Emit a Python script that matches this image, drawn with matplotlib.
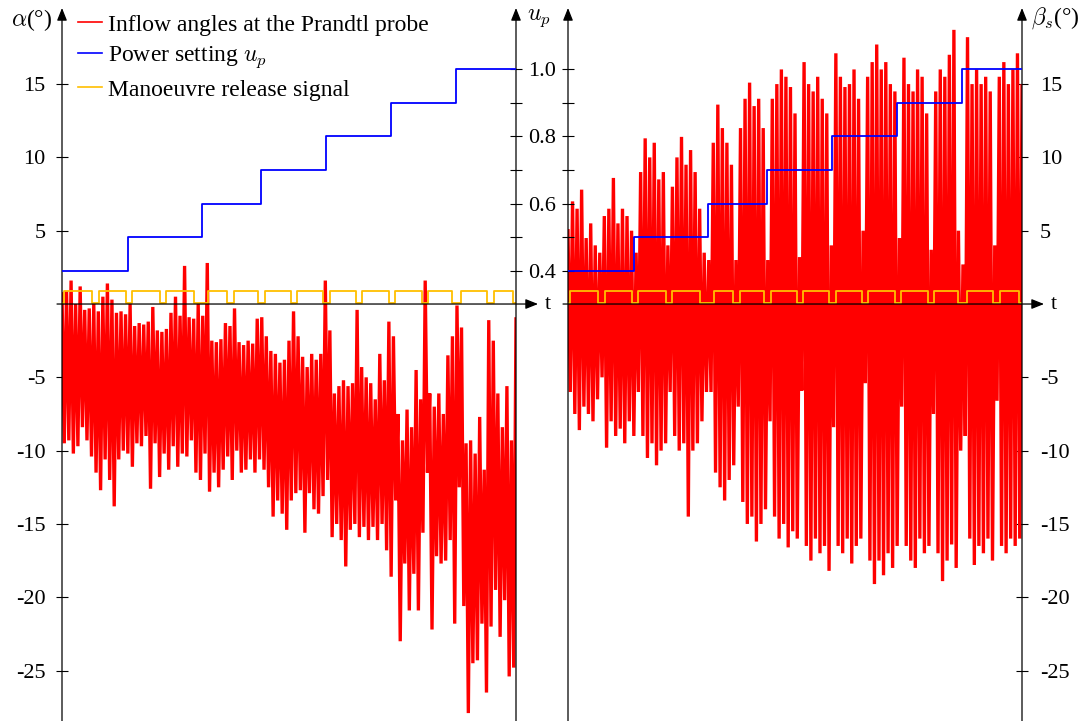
import numpy as np
import matplotlib.pyplot as plt

plt.rcParams['font.family'] = ['Liberation Serif', 'DejaVu Serif']
plt.rcParams['mathtext.fontset'] = 'cm'
plt.rcParams['font.size'] = 16

# time in % of the record, one sample per unit (envelope)
t = np.arange(0, 101)

# inflow angle alpha: upper / lower extremes of the noisy signal
alpha_hi = [0.7, 0.9, 1.6, 0.0, 1.2, -0.4, -0.3, 0.0, -0.5, 0.5,
            1.4, 0.3, -0.6, -0.5, -0.7, 0.0, -1.5, -1.3, -1.4, -1.2,
            -0.2, -1.8, -1.9, -1.7, -0.6, 0.5, -0.8, 2.6, -0.9, -1.0,
            0.0, -0.8, 2.8, -2.5, -2.6, -2.4, -1.3, -1.5, -0.3, -2.6,
            -2.8, -2.5, -2.7, -1.0, -0.9, -2.2, -3.2, -3.4, -4.0, -3.8,
            -2.5, -0.5, -2.2, -3.6, -4.3, -3.4, -3.8, -3.4, 1.6, -1.8,
            -6.1, -5.6, -5.2, -5.6, -5.4, -0.4, -4.3, -5.0, -5.4, -6.5,
            -3.4, -5.2, -1.2, -2.2, -7.5, -9.3, -7.2, -8.4, -4.5, -6.5,
            1.6, -6.1, -7.0, -6.1, -7.5, -3.5, -2.2, -0.1, -1.6, -9.5,
            -9.3, -10.2, -7.7, -11.3, -1.1, -2.5, -6.1, -8.4, -5.6, -9.3,
            -0.9]
alpha_lo = [-9.5, -9.3, -10.2, -9.7, -8.4, -9.3, -10.4, -11.5, -12.7, -10.6,
            -12.0, -13.8, -10.6, -10.0, -10.2, -11.1, -9.5, -9.7, -9.0, -12.6,
            -9.5, -11.8, -10.2, -11.3, -9.7, -11.1, -10.2, -10.4, -9.3, -11.5,
            -12.0, -10.2, -12.8, -11.5, -12.5, -11.3, -10.4, -12.0, -10.0, -11.5,
            -11.3, -10.6, -11.5, -10.6, -11.3, -12.5, -14.5, -13.4, -14.3, -15.4,
            -13.4, -12.9, -12.7, -15.6, -12.9, -14.0, -14.3, -13.1, -12.0, -15.9,
            -15.0, -16.1, -17.9, -15.4, -15.0, -15.9, -15.2, -16.1, -15.2, -16.1,
            -15.0, -16.8, -18.6, -13.4, -23.0, -17.7, -20.9, -18.4, -20.9, -15.6,
            -11.5, -22.2, -17.2, -17.7, -17.5, -16.1, -21.8, -12.5, -20.6, -27.9,
            -24.5, -24.3, -21.8, -26.5, -22.0, -19.5, -22.7, -20.2, -25.4, -24.8,
            -18.4]

# sideslip angle beta_s: upper / lower extremes
beta_hi = [5.0, 7.0, 6.5, 7.8, 4.5, 5.5, 4.0, 3.5, 6.0, 6.5,
           8.6, 5.5, 6.5, 6.0, 5.0, 3.5, 9.0, 11.3, 10.0, 11.0,
           8.5, 9.0, 4.0, 8.0, 10.0, 11.4, 9.5, 10.5, 9.0, 6.5,
           3.5, 3.0, 11.0, 13.6, 12.0, 11.0, 9.5, 3.0, 12.0, 14.0,
           15.1, 13.5, 14.0, 12.0, 3.0, 14.0, 15.0, 16.0, 15.5, 14.8,
           13.0, 3.2, 16.5, 15.0, 14.5, 15.5, 14.0, 13.0, 4.0, 17.1,
           15.5, 14.8, 15.0, 16.0, 14.0, 5.0, 15.5, 16.5, 17.7, 16.0,
           16.5, 15.0, 14.5, 4.5, 16.8, 15.0, 14.5, 16.0, 15.5, 13.0,
           3.7, 14.5, 16.0, 15.5, 17.0, 18.7, 5.0, 2.7, 18.2, 15.0,
           16.0, 15.0, 15.5, 14.5, 4.0, 15.5, 16.5, 15.0, 16.0, 17.1,
           15.0]
beta_lo = [-6.0, -7.5, -8.6, -7.0, -7.5, -8.0, -6.5, -5.0, -9.8, -8.0,
           -9.0, -8.5, -9.5, -8.0, -9.0, -6.0, -9.0, -10.5, -9.5, -11.0,
           -10.0, -9.5, -6.0, -9.0, -10.0, -9.5, -14.5, -10.0, -9.5, -8.0,
           -6.0, -6.0, -11.5, -12.5, -13.4, -12.0, -11.0, -7.0, -13.5, -15.0,
           -14.5, -16.2, -15.0, -14.0, -8.0, -14.5, -16.0, -15.0, -16.6, -15.5,
           -16.0, -5.9, -16.5, -17.5, -16.0, -17.0, -16.5, -18.2, -8.4, -16.5,
           -17.0, -16.0, -17.7, -16.5, -16.0, -5.4, -17.5, -19.1, -17.5, -18.5,
           -17.0, -18.0, -16.5, -7.0, -16.5, -17.5, -18.0, -16.0, -17.0, -16.5,
           -7.5, -17.0, -18.9, -17.5, -16.4, -18.0, -10.0, -9.0, -16.0, -17.8,
           -16.5, -17.0, -16.0, -17.5, -6.6, -16.5, -17.0, -16.0, -16.5, -16.0,
           -14.0]

# power setting steps
up_times = [0, 14.5, 30.8, 43.8, 58.1, 72.5, 86.8, 100]
up_values = [0.4, 0.5, 0.6, 0.7, 0.8, 0.9, 1.0]

# manoeuvre release pulses (start / end)
release_on = [0.4, 8.1, 15.4, 22.9, 32.2, 37.9, 44.7, 51.8, 59.0, 66.1, 73.3, 80.6, 87.9, 95.2]
release_off = [6.6, 14.1, 21.6, 29.1, 36.3, 43.2, 50.4, 57.5, 64.8, 72.0, 79.3, 85.9, 93.6, 99.3]
release_high = 0.9
release_low = 0.05

angle_ticks = [15, 10, 5, -5, -10, -15, -20, -25]
angle_labels = ['15', '10', '5', '-5', '-10', '-15', '-20', '-25']
up_ticks = [0.4, 0.5, 0.6, 0.7, 0.8, 0.9, 1.0]
up_labels = ['0.4', '', '0.6', '', '0.8', '', '1.0']

RED = '#ff0000'
BLUE = '#0000ff'
ORANGE = '#ffbf00'

W, H = 1087, 721
fig = plt.figure(figsize=(W / 100, H / 100), dpi=100)


def zigzag(hi, lo):
    tt = np.empty(2 * len(t))
    yy = np.empty(2 * len(t))
    tt[0::2] = t
    tt[1::2] = t + 0.5
    yy[0::2] = hi
    yy[1::2] = lo
    return tt, yy


def release_signal():
    rt, ry = [0], [release_low]
    for on, off in zip(release_on, release_off):
        rt += [on, on, off, off]
        ry += [release_low, release_high, release_high, release_low]
    rt.append(100)
    ry.append(release_low)
    return rt, ry


def arrow(ax, start, end, coords):
    ax.annotate('', xy=end, xytext=start, xycoords=coords, textcoords=coords,
                arrowprops=dict(arrowstyle='-|>,head_length=0.75,head_width=0.3',
                                mutation_scale=10, color='k', lw=0.9,
                                shrinkA=0, shrinkB=0),
                annotation_clip=False, zorder=10)


def panel(x0, hi, lo):
    ax = fig.add_axes([x0 / W, 0, 454 / W, 713 / H])
    axu = ax.twinx()
    ax.set_xlim(0, 100)
    ax.set_ylim(-28.44, 20.19)
    axu.set_ylim(-0.9366, 1.1812)
    for a in (ax, axu):
        for s in a.spines.values():
            s.set_visible(False)
        a.set_xticks([])
        a.patch.set_visible(False)
        a.tick_params(axis='y', direction='inout', length=8, width=0.8,
                      pad=5, labelsize=16, colors='k')

    tt, yy = zigzag(hi, lo)
    red, = ax.plot(tt, yy, color=RED, lw=2.4, zorder=2, solid_joinstyle='miter')
    rt, ry = release_signal()
    orange, = ax.plot(rt, ry, color=ORANGE, lw=1.3, zorder=4)
    blue, = axu.step(up_times, up_values + [up_values[-1]], where='post',
                     color=BLUE, lw=1.3, zorder=4)

    # axes lines with arrow tips
    arrow(ax, (0, 0), (0, 1), 'axes fraction')
    arrow(ax, (1, 0), (1, 1), 'axes fraction')
    arrow(ax, (-0.011, 0), (1.0485, 0), ax.get_yaxis_transform())
    ax.text(1.0705, 0, 't', transform=ax.get_yaxis_transform(),
            ha='center', va='center', fontsize=16)
    return ax, axu, red, blue, orange


# left panel: alpha + power setting axis
axl, axlu, red, blue, orange = panel(62, alpha_hi, alpha_lo)
axl.set_yticks(angle_ticks, angle_labels)
axl.tick_params(axis='y', pad=8)
axlu.set_yticks(up_ticks, up_labels)
axl.text(-0.022, 0.983, r'$\alpha$(°)', transform=axl.transAxes,
         ha='right', va='center', fontsize=17)
axl.text(1.024, 0.986, r'$u_p$', transform=axl.transAxes,
         ha='left', va='center', fontsize=17)

# right panel: beta_s
axr, axru, _, _, _ = panel(568, beta_hi, beta_lo)
axr.yaxis.tick_right()
axr.set_yticks(angle_ticks, angle_labels)
axr.tick_params(axis='y', pad=9)
axru.yaxis.tick_left()
axru.set_yticks(up_ticks, [''] * len(up_ticks))
axr.text(1.0198, 0.986, r'$\beta_s$(°)', transform=axr.transAxes,
         ha='left', va='center', fontsize=17)

leg = axlu.legend([red, blue, orange],
                  ['Inflow angles at the Prandtl probe', 'Power setting $u_p$',
                   'Manoeuvre release signal'],
                  loc='upper left', bbox_to_anchor=(78 / W, 1 - 14 / H),
                  bbox_transform=fig.transFigure, frameon=False, borderpad=0,
                  borderaxespad=0, handlelength=1.02, handletextpad=0.26,
                  labelspacing=0.38, fontsize=17)
for h in leg.legend_handles:
    h.set_linewidth(1.2)

fig.savefig('out.png', dpi=100)
